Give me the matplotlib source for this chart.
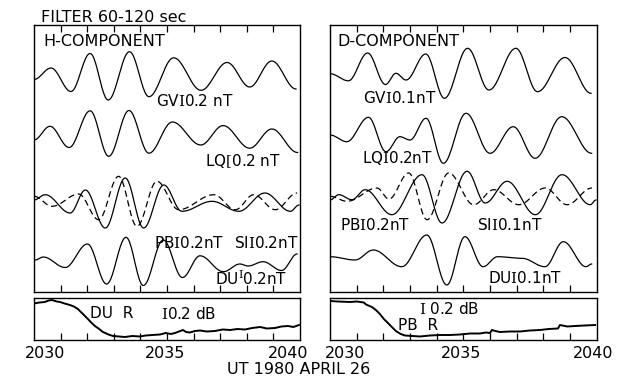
import numpy as np
import matplotlib
matplotlib.use("Agg")
import matplotlib.pyplot as plt

plt.rcParams["font.family"] = ["DejaVu Sans"]
plt.rcParams["mathtext.fontset"] = "custom"
plt.rcParams["mathtext.rm"] = "DejaVu Serif"

# times in minutes after 2030 UT, values in panel units
# ---- H component ----
gvH_t = [0, 0.64, 1.39, 2.11, 2.79, 3.59, 4.32, 5.25, 6.28, 7.26, 8.11, 8.94, 9.85]
gvH_v = [212.5, 224, 200.5, 238.5, 192, 240.3, 195.3, 234.2, 201.7, 229.5, 205, 231, 203]

lqH_t = [0, 0.60, 1.32, 2.11, 2.81, 3.57, 4.32, 5.20, 6.27, 7.11, 8.11, 8.94, 9.91]
lqH_v = [152, 165.7, 144.5, 181.2, 135.7, 181.5, 138.8, 170, 147, 166.4, 143.8, 163, 139.5]

pbH_t = [0, 0.42, 1.36, 1.93, 2.68, 3.43, 4.12, 4.88, 5.56, 6.69, 7.70, 8.68, 9.64, 9.96]
pbH_v = [92, 97.3, 79, 102, 64, 114, 64, 107, 80.7, 90.7, 80.7, 99, 80.7, 87]

siH_t = [0, 0.68, 1.68, 2.43, 3.18, 3.87, 4.62, 5.44, 6.76, 7.57, 8.26, 9.07, 9.89]
siH_v = [95.7, 85.7, 98, 72.3, 115.7, 65.7, 110.7, 82.3, 97.3, 82.3, 97.3, 82.3, 99]

duH_t = [0.04, 0.35, 1.17, 2.01, 2.73, 3.46, 4.11, 4.86, 5.58, 6.24, 7.12, 7.74, 8.05, 8.61, 9.31, 9.89]
duH_v = [32, 35, 24.5, 48, 8, 54.7, 6.5, 52, 14.5, 36.2, 20.3, 28, 26, 30.3, 21.5, 38]

# ---- D component ----
gvD_t = [0, 0.69, 1.41, 2.08, 2.47, 2.85, 3.59, 4.29, 5.16, 5.96, 6.97, 7.78, 8.81, 9.79]
gvD_v = [218.3, 211.2, 239, 207.5, 218.7, 212, 238, 193.7, 243.7, 202, 243.7, 200.3, 234.5, 198.7]

lqD_t = [0, 0.63, 1.44, 2.10, 2.62, 3.00, 3.60, 4.25, 5.10, 6.00, 6.87, 7.69, 8.69, 9.81]
lqD_v = [157, 150.3, 174.7, 140.3, 155.3, 152, 173.7, 128.7, 178.7, 138.7, 165.3, 133.7, 175.3, 138.7]

pbD_t = [0, 0.33, 0.82, 1.32, 2.32, 3.45, 4.20, 5.14, 5.82, 6.64, 7.70, 8.70, 9.76, 9.97]
pbD_v = [92, 97.3, 92.3, 102.3, 77.3, 117.3, 69, 120.7, 89, 110.7, 77.3, 117.3, 87.3, 92]

siD_t = [0, 0.64, 1.76, 2.21, 2.95, 3.64, 4.45, 5.39, 6.14, 7.08, 8.07, 8.89, 9.82]
siD_v = [95.7, 90.7, 104, 93, 119, 72.3, 119, 87.3, 102.3, 87.3, 104, 87.3, 104]

duD_t = [0, 0.94, 1.62, 2.69, 3.63, 4.38, 5.06, 5.74, 6.28, 7.20, 8.06, 8.75, 9.60, 9.81]
duD_v = [35.3, 32, 42, 25.3, 57, 7, 55.3, 25.3, 35.3, 33.7, 25.3, 50.3, 25.3, 28]

# ---- riometer absorption strips ----
duR_t = [0, 0.2, 0.41, 0.55, 0.68, 0.85, 0.98, 1.15, 1.35, 1.5, 1.65, 1.8, 1.99, 2.15,
         2.29, 2.45, 2.59, 2.8, 2.97, 3.2, 3.42, 3.7, 3.98, 4.2, 4.45, 4.74, 4.95,
         5.15, 5.30, 5.45, 5.60, 5.72, 5.86, 6.05, 6.24, 6.5, 6.80, 7.1, 7.37, 7.65,
         7.93, 8.2, 8.50, 8.75, 9.06, 9.3, 9.55, 9.75, 9.96]
duR_v = [36.5, 37.5, 38, 39.5, 40, 38.5, 38, 36.5, 35, 33.5, 31, 27, 22, 17.5,
         14, 11, 8, 5.5, 4, 3.5, 3, 4, 3.5, 4.5, 5, 5.5, 7,
         6, 7, 8.5, 10, 8, 7.5, 9, 9.5, 8.5, 9, 10.5, 10, 11,
         10.5, 12, 13, 11.5, 12, 13.5, 14, 13, 15]

pbR_t = [0, 0.3, 0.75, 1.0, 1.27, 1.35, 1.57, 1.72, 1.87, 2.02, 2.17, 2.32, 2.47, 2.65,
         2.81, 3.1, 3.37, 3.75, 4.12, 4.5, 4.87, 5.25, 5.62, 5.85, 6.00, 6.07, 6.2,
         6.37, 6.75, 7.12, 7.5, 7.87, 8.2, 8.55, 8.62, 8.9, 9.18, 9.55, 9.94]
pbR_v = [39, 38.5, 38, 38.5, 37.5, 35.5, 33, 30, 26, 21, 17, 13, 9, 6,
         4.5, 4, 3.5, 4.5, 5, 5, 5.5, 6.5, 6.5, 7.5, 7, 10, 9,
         8, 8.5, 8.5, 9.5, 10, 11, 11.5, 15, 13.5, 14, 14.5, 15]

W, H = 622, 383


def px(x, y):
    return x / W, 1 - y / H


def smooth(t, v, n=24):
    # half-cosine joins between the read turning points
    tt, vv = [], []
    for i in range(len(t) - 1):
        s = np.linspace(0, 1, n, endpoint=False)
        tt.extend(t[i] + (t[i + 1] - t[i]) * s)
        vv.extend(v[i] + (v[i + 1] - v[i]) * (1 - np.cos(np.pi * s)) / 2)
    tt.append(t[-1])
    vv.append(v[-1])
    return tt, vv


def frame(ax, top_ticks):
    ax.set_xlim(0, 10)
    ax.set_xticks(range(1, 10))
    ax.set_xticklabels([])
    ax.set_yticks([])
    ax.tick_params(axis="x", direction="in", length=5, width=0.9,
                   top=top_ticks, bottom=True)
    for s in ax.spines.values():
        s.set_linewidth(1.0)


fig = plt.figure(figsize=(W / 100, H / 100), dpi=100)

lw = 0.9
panels = [
    (34, 266, [(gvH_t, gvH_v, "-"), (lqH_t, lqH_v, "-"), (pbH_t, pbH_v, "-"),
               (siH_t, siH_v, "--"), (duH_t, duH_v, "-")], duR_t, duR_v),
    (330, 266.7, [(gvD_t, gvD_v, "-"), (lqD_t, lqD_v, "-"), (pbD_t, pbD_v, "-"),
                  (siD_t, siD_v, "--"), (duD_t, duD_v, "-")], pbR_t, pbR_v),
]

for left, width, traces, rt, rv in panels:
    ax = fig.add_axes([left / W, 1 - 292 / H, width / W, 267 / H])
    frame(ax, True)
    ax.set_ylim(0, 267)
    for t, v, ls in traces:
        tt, vv = smooth(t, v)
        if ls == "--":
            ax.plot(tt, vv, color="black", lw=lw, ls=(0, (5, 3)))
        else:
            ax.plot(tt, vv, color="black", lw=lw)

    axr = fig.add_axes([left / W, 1 - 340 / H, width / W, 42 / H])
    frame(axr, False)
    axr.set_ylim(0, 42)
    axr.plot(rt, rv, color="black", lw=1.4)

fs = 11.5
fs2 = 11
fig.text(*px(41, 17), "FILTER 60-120 sec", fontsize=fs, va="center")
fig.text(*px(43, 42), "H-COMPONENT", fontsize=fs, va="center")
fig.text(*px(337, 41), "D-COMPONENT", fontsize=fs, va="center")

labels = [
    (156, 101, r"GV$\mathrm{I}$0.2 nT"),
    (205, 161, r"LQ$\mathrm{[}$0.2 nT"),
    (154, 243, r"PB$\mathrm{I}$0.2nT"),
    (234, 243, r"SI$\mathrm{I}$0.2nT"),
    (215, 278, r"DU$^\mathrm{I}$0.2nT"),
    (363, 98, r"GV$\mathrm{I}$0.1nT"),
    (362, 158, r"LQ$\mathrm{I}$0.2nT"),
    (340, 225, r"PB$\mathrm{I}$0.2nT"),
    (477, 225, r"SI$\mathrm{I}$0.1nT"),
    (488, 278, r"DU$\mathrm{I}$0.1nT"),
    (90, 314, "DU  R"),
    (161, 314, r"$\mathrm{I}$0.2 dB"),
    (398, 326, "PB  R"),
    (419, 309, r"$\mathrm{I}$ 0.2 dB"),
]
for x, y, s in labels:
    fig.text(*px(x, y), s, fontsize=fs2, va="center")

ticks = [(45, "2030"), (165, "2035"), (288, "2040"),
         (345, "2030"), (461, "2035"), (593, "2040")]
for x, s in ticks:
    fig.text(*px(x, 353), s, fontsize=fs, ha="center", va="center")

fig.text(*px(299, 369), "UT 1980 APRIL 26", fontsize=fs, ha="center", va="center")

fig.savefig("out.png", dpi=100)
